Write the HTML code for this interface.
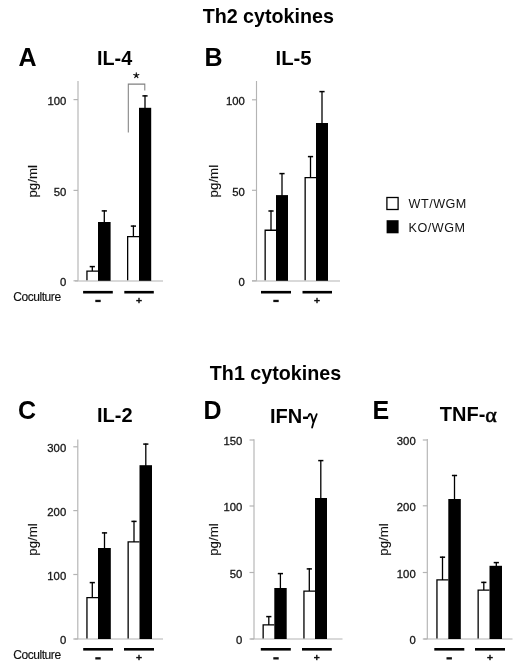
<!DOCTYPE html>
<html><head><meta charset="utf-8"><style>
html,body{margin:0;padding:0;background:#fff;}
body{width:520px;height:670px;overflow:hidden;}
svg{display:block;font-family:"Liberation Sans", sans-serif;will-change:transform;}
</style></head><body>
<svg width="520" height="670" viewBox="0 0 520 670">
<text x="268.3" y="23" font-size="19.7" font-weight="bold" text-anchor="middle" fill="#000">Th2 cytokines</text>
<text x="275.5" y="380.4" font-size="19.7" font-weight="bold" text-anchor="middle" fill="#000">Th1 cytokines</text>
<text x="18.5" y="65.5" font-size="25" font-weight="bold" text-anchor="start" fill="#000">A</text>
<text x="204.5" y="66" font-size="25" font-weight="bold" text-anchor="start" fill="#000">B</text>
<text x="18" y="419" font-size="25" font-weight="bold" text-anchor="start" fill="#000">C</text>
<text x="203.5" y="419" font-size="25" font-weight="bold" text-anchor="start" fill="#000">D</text>
<text x="372.5" y="419" font-size="25" font-weight="bold" text-anchor="start" fill="#000">E</text>
<text x="97" y="65" font-size="19.8" font-weight="bold" text-anchor="start" fill="#000">IL-4</text>
<text x="275.5" y="65.2" font-size="20.3" font-weight="bold" text-anchor="start" fill="#000">IL-5</text>
<text x="97" y="421.5" font-size="20" font-weight="bold" text-anchor="start" fill="#000">IL-2</text>
<text x="270" y="423" font-size="20" font-weight="bold" fill="#000">IFN-</text>
<path d="M308.5 416.4 Q309.4 412.6 311.3 414.8 L313.5 422.6 M316.7 414.2 L313.5 422.6 L312.1 427.6" fill="none" stroke="#000" stroke-width="1.8" stroke-linecap="round" stroke-linejoin="round"/>
<text x="439.8" y="420.8" font-size="20" font-weight="bold" fill="#000">TNF-<tspan font-weight="normal" font-family="Liberation Serif" font-size="22" dy="1" stroke="#000" stroke-width="0.6">α</tspan></text>
<line x1="78" y1="81" x2="78" y2="280.8" stroke="#b4b4b4" stroke-width="1.15"/>
<line x1="75" y1="281" x2="163" y2="281" stroke="#b4b4b4" stroke-width="1.15"/>
<line x1="73.5" y1="99.6" x2="78" y2="99.6" stroke="#b4b4b4" stroke-width="1.2"/>
<text x="66.4" y="104.89999999999999" text-anchor="end" font-size="11.3" fill="#151515" stroke="#151515" stroke-width="0.3">100</text>
<line x1="73.5" y1="190.4" x2="78" y2="190.4" stroke="#b4b4b4" stroke-width="1.2"/>
<text x="66.4" y="195.70000000000002" text-anchor="end" font-size="11.3" fill="#151515" stroke="#151515" stroke-width="0.3">50</text>
<line x1="73.5" y1="280.8" x2="78" y2="280.8" stroke="#b4b4b4" stroke-width="1.2"/>
<text x="66.4" y="286.1" text-anchor="end" font-size="11.3" fill="#151515" stroke="#151515" stroke-width="0.3">0</text>
<path d="M86.95 280.2 V271.04999999999995 H98" fill="#fff" stroke="#000" stroke-width="1.3"/>
<rect x="98" y="222" width="12.599999999999994" height="58.80000000000001" fill="#000"/>
<path d="M127.65 280.2 V236.65 H139" fill="#fff" stroke="#000" stroke-width="1.3"/>
<rect x="139" y="107.8" width="12.199999999999989" height="173.0" fill="#000"/>
<line x1="92.3" y1="266" x2="92.3" y2="271" stroke="#000" stroke-width="1.3"/>
<line x1="89.7" y1="266.6" x2="94.89999999999999" y2="266.6" stroke="#000" stroke-width="1.5"/>
<line x1="104.3" y1="210.3" x2="104.3" y2="222" stroke="#000" stroke-width="1.3"/>
<line x1="101.7" y1="210.9" x2="106.89999999999999" y2="210.9" stroke="#000" stroke-width="1.5"/>
<line x1="133.4" y1="225.5" x2="133.4" y2="236" stroke="#000" stroke-width="1.3"/>
<line x1="130.8" y1="226.1" x2="136.0" y2="226.1" stroke="#000" stroke-width="1.5"/>
<line x1="145" y1="95.3" x2="145" y2="108" stroke="#000" stroke-width="1.3"/>
<line x1="142.4" y1="95.89999999999999" x2="147.6" y2="95.89999999999999" stroke="#000" stroke-width="1.5"/>
<line x1="83.1" y1="292.2" x2="112.8" y2="292.2" stroke="#000" stroke-width="2.6"/>
<line x1="124.3" y1="292.2" x2="153.8" y2="292.2" stroke="#000" stroke-width="2.6"/>
<rect x="95.3" y="299.8" width="5.4" height="2.3" fill="#111"/>
<rect x="136.2" y="299.9" width="5.6" height="1.4" fill="#111"/>
<rect x="138.3" y="297.8" width="1.4" height="5.4" fill="#111"/>
<text transform="translate(36.9,181.35) rotate(-90)" x="0" y="0" text-anchor="middle" font-size="13.3" fill="#111" stroke="#111" stroke-width="0.15">pg/ml</text>
<text x="13.3" y="301.4" font-size="12" letter-spacing="-0.45" fill="#111" stroke="#111" stroke-width="0.15">Coculture</text>
<path d="M128.3 132.6 V84.1 H144.8 V90.5" fill="none" stroke="#808080" stroke-width="1.05"/>
<path d="M136.3 75.4 L136.30 72.70 M136.3 75.4 L138.87 74.57 M136.3 75.4 L133.73 74.57 M136.3 75.4 L134.71 77.58 M136.3 75.4 L137.89 77.58" stroke="#111" stroke-width="1.15" stroke-linecap="round" fill="none"/>
<line x1="256.5" y1="81" x2="256.5" y2="280.8" stroke="#b4b4b4" stroke-width="1.15"/>
<line x1="252" y1="281" x2="340" y2="281" stroke="#b4b4b4" stroke-width="1.15"/>
<line x1="252.0" y1="99.8" x2="256.5" y2="99.8" stroke="#b4b4b4" stroke-width="1.2"/>
<text x="244.9" y="105.1" text-anchor="end" font-size="11.3" fill="#151515" stroke="#151515" stroke-width="0.3">100</text>
<line x1="252.0" y1="190.3" x2="256.5" y2="190.3" stroke="#b4b4b4" stroke-width="1.2"/>
<text x="244.9" y="195.60000000000002" text-anchor="end" font-size="11.3" fill="#151515" stroke="#151515" stroke-width="0.3">50</text>
<line x1="252.0" y1="280.8" x2="256.5" y2="280.8" stroke="#b4b4b4" stroke-width="1.2"/>
<text x="244.9" y="286.1" text-anchor="end" font-size="11.3" fill="#151515" stroke="#151515" stroke-width="0.3">0</text>
<path d="M265.15 280.2 V230.25 H276" fill="#fff" stroke="#000" stroke-width="1.3"/>
<rect x="276" y="195.1" width="12" height="85.70000000000002" fill="#000"/>
<path d="M305.15 280.2 V177.65 H316" fill="#fff" stroke="#000" stroke-width="1.3"/>
<rect x="316" y="123" width="12" height="157.8" fill="#000"/>
<line x1="271" y1="210.4" x2="271" y2="230" stroke="#000" stroke-width="1.3"/>
<line x1="268.4" y1="211.0" x2="273.6" y2="211.0" stroke="#000" stroke-width="1.5"/>
<line x1="282" y1="173" x2="282" y2="196" stroke="#000" stroke-width="1.3"/>
<line x1="279.4" y1="173.6" x2="284.6" y2="173.6" stroke="#000" stroke-width="1.5"/>
<line x1="310.5" y1="156" x2="310.5" y2="177" stroke="#000" stroke-width="1.3"/>
<line x1="307.9" y1="156.6" x2="313.1" y2="156.6" stroke="#000" stroke-width="1.5"/>
<line x1="322" y1="91" x2="322" y2="123" stroke="#000" stroke-width="1.3"/>
<line x1="319.4" y1="91.6" x2="324.6" y2="91.6" stroke="#000" stroke-width="1.5"/>
<line x1="261" y1="292.2" x2="291" y2="292.2" stroke="#000" stroke-width="2.6"/>
<line x1="302.5" y1="292.2" x2="332" y2="292.2" stroke="#000" stroke-width="2.6"/>
<rect x="273.3" y="299.8" width="5.4" height="2.3" fill="#111"/>
<rect x="314.2" y="299.9" width="5.6" height="1.4" fill="#111"/>
<rect x="316.3" y="297.8" width="1.4" height="5.4" fill="#111"/>
<text transform="translate(218.2,181.15) rotate(-90)" x="0" y="0" text-anchor="middle" font-size="13.3" fill="#111" stroke="#111" stroke-width="0.15">pg/ml</text>
<rect x="386.9" y="197.5" width="11.2" height="12" fill="#fff" stroke="#000" stroke-width="1.3"/>
<rect x="386.6" y="220.2" width="12" height="13.1" fill="#000"/>
<text x="408.6" y="208.3" font-size="12.6" letter-spacing="0.5" fill="#111">WT/WGM</text>
<text x="408.6" y="231.8" font-size="12.6" letter-spacing="0.5" fill="#111">KO/WGM</text>
<line x1="77.8" y1="439.5" x2="77.8" y2="639" stroke="#b4b4b4" stroke-width="1.15"/>
<line x1="74.5" y1="639" x2="163" y2="639" stroke="#b4b4b4" stroke-width="1.15"/>
<line x1="73.3" y1="446.8" x2="77.8" y2="446.8" stroke="#b4b4b4" stroke-width="1.2"/>
<text x="66.2" y="452.1" text-anchor="end" font-size="11.3" fill="#151515" stroke="#151515" stroke-width="0.3">300</text>
<line x1="73.3" y1="510.6" x2="77.8" y2="510.6" stroke="#b4b4b4" stroke-width="1.2"/>
<text x="66.2" y="515.9" text-anchor="end" font-size="11.3" fill="#151515" stroke="#151515" stroke-width="0.3">200</text>
<line x1="73.3" y1="574.5" x2="77.8" y2="574.5" stroke="#b4b4b4" stroke-width="1.2"/>
<text x="66.2" y="579.8" text-anchor="end" font-size="11.3" fill="#151515" stroke="#151515" stroke-width="0.3">100</text>
<line x1="73.3" y1="639" x2="77.8" y2="639" stroke="#b4b4b4" stroke-width="1.2"/>
<text x="66.2" y="644.3" text-anchor="end" font-size="11.3" fill="#151515" stroke="#151515" stroke-width="0.3">0</text>
<path d="M86.95 638.4 V597.65 H98" fill="#fff" stroke="#000" stroke-width="1.3"/>
<rect x="98" y="548.0" width="12.799999999999997" height="91.0" fill="#000"/>
<path d="M128.15 638.4 V541.9499999999999 H139.5" fill="#fff" stroke="#000" stroke-width="1.3"/>
<rect x="139.5" y="465.2" width="12.5" height="173.8" fill="#000"/>
<line x1="92.3" y1="582.0" x2="92.3" y2="598" stroke="#000" stroke-width="1.3"/>
<line x1="89.7" y1="582.6" x2="94.89999999999999" y2="582.6" stroke="#000" stroke-width="1.5"/>
<line x1="104.5" y1="532.3" x2="104.5" y2="549" stroke="#000" stroke-width="1.3"/>
<line x1="101.9" y1="532.9" x2="107.1" y2="532.9" stroke="#000" stroke-width="1.5"/>
<line x1="134" y1="520.8" x2="134" y2="542" stroke="#000" stroke-width="1.3"/>
<line x1="131.4" y1="521.4" x2="136.6" y2="521.4" stroke="#000" stroke-width="1.5"/>
<line x1="145.8" y1="443.5" x2="145.8" y2="466" stroke="#000" stroke-width="1.3"/>
<line x1="143.20000000000002" y1="444.1" x2="148.4" y2="444.1" stroke="#000" stroke-width="1.5"/>
<line x1="83.2" y1="649.3" x2="113" y2="649.3" stroke="#000" stroke-width="2.6"/>
<line x1="124" y1="649.3" x2="154" y2="649.3" stroke="#000" stroke-width="2.6"/>
<rect x="95.3" y="657.1999999999999" width="5.4" height="2.3" fill="#111"/>
<rect x="136.2" y="656.9" width="5.6" height="1.4" fill="#111"/>
<rect x="138.3" y="654.8" width="1.4" height="5.4" fill="#111"/>
<text transform="translate(36.8,539.5) rotate(-90)" x="0" y="0" text-anchor="middle" font-size="13.3" fill="#111" stroke="#111" stroke-width="0.15">pg/ml</text>
<text x="13.3" y="658.7" font-size="12" letter-spacing="-0.45" fill="#111" stroke="#111" stroke-width="0.15">Coculture</text>
<line x1="254" y1="439.3" x2="254" y2="639" stroke="#b4b4b4" stroke-width="1.15"/>
<line x1="250.5" y1="639" x2="342.5" y2="639" stroke="#b4b4b4" stroke-width="1.15"/>
<line x1="249.5" y1="440" x2="254" y2="440" stroke="#b4b4b4" stroke-width="1.2"/>
<text x="242.4" y="445.3" text-anchor="end" font-size="11.3" fill="#151515" stroke="#151515" stroke-width="0.3">150</text>
<line x1="249.5" y1="506" x2="254" y2="506" stroke="#b4b4b4" stroke-width="1.2"/>
<text x="242.4" y="511.3" text-anchor="end" font-size="11.3" fill="#151515" stroke="#151515" stroke-width="0.3">100</text>
<line x1="249.5" y1="572.5" x2="254" y2="572.5" stroke="#b4b4b4" stroke-width="1.2"/>
<text x="242.4" y="577.8" text-anchor="end" font-size="11.3" fill="#151515" stroke="#151515" stroke-width="0.3">50</text>
<line x1="249.5" y1="639" x2="254" y2="639" stroke="#b4b4b4" stroke-width="1.2"/>
<text x="242.4" y="644.3" text-anchor="end" font-size="11.3" fill="#151515" stroke="#151515" stroke-width="0.3">0</text>
<path d="M263.15 638.4 V624.9499999999999 H274.3" fill="#fff" stroke="#000" stroke-width="1.3"/>
<rect x="274.3" y="588" width="12.399999999999977" height="51" fill="#000"/>
<path d="M303.95 638.4 V591.15 H315" fill="#fff" stroke="#000" stroke-width="1.3"/>
<rect x="315" y="498" width="12" height="141" fill="#000"/>
<line x1="268.8" y1="616.0" x2="268.8" y2="625" stroke="#000" stroke-width="1.3"/>
<line x1="266.2" y1="616.6" x2="271.40000000000003" y2="616.6" stroke="#000" stroke-width="1.5"/>
<line x1="280.4" y1="573.0" x2="280.4" y2="588" stroke="#000" stroke-width="1.3"/>
<line x1="277.79999999999995" y1="573.6" x2="283.0" y2="573.6" stroke="#000" stroke-width="1.5"/>
<line x1="309.3" y1="568.3" x2="309.3" y2="591" stroke="#000" stroke-width="1.3"/>
<line x1="306.7" y1="568.9" x2="311.90000000000003" y2="568.9" stroke="#000" stroke-width="1.5"/>
<line x1="320.8" y1="460.0" x2="320.8" y2="498" stroke="#000" stroke-width="1.3"/>
<line x1="318.2" y1="460.6" x2="323.40000000000003" y2="460.6" stroke="#000" stroke-width="1.5"/>
<line x1="260.8" y1="649.3" x2="290.8" y2="649.3" stroke="#000" stroke-width="2.6"/>
<line x1="302" y1="649.3" x2="331.8" y2="649.3" stroke="#000" stroke-width="2.6"/>
<rect x="273.3" y="657.1999999999999" width="5.4" height="2.3" fill="#111"/>
<rect x="314.0" y="656.9" width="5.6" height="1.4" fill="#111"/>
<rect x="316.1" y="654.8" width="1.4" height="5.4" fill="#111"/>
<text transform="translate(217.7,539.55) rotate(-90)" x="0" y="0" text-anchor="middle" font-size="13.3" fill="#111" stroke="#111" stroke-width="0.15">pg/ml</text>
<line x1="427.3" y1="439" x2="427.3" y2="639" stroke="#b4b4b4" stroke-width="1.15"/>
<line x1="423.8" y1="639" x2="512.5" y2="639" stroke="#b4b4b4" stroke-width="1.15"/>
<line x1="422.8" y1="440" x2="427.3" y2="440" stroke="#b4b4b4" stroke-width="1.2"/>
<text x="415.7" y="445.3" text-anchor="end" font-size="11.3" fill="#151515" stroke="#151515" stroke-width="0.3">300</text>
<line x1="422.8" y1="505.8" x2="427.3" y2="505.8" stroke="#b4b4b4" stroke-width="1.2"/>
<text x="415.7" y="511.1" text-anchor="end" font-size="11.3" fill="#151515" stroke="#151515" stroke-width="0.3">200</text>
<line x1="422.8" y1="572.5" x2="427.3" y2="572.5" stroke="#b4b4b4" stroke-width="1.2"/>
<text x="415.7" y="577.8" text-anchor="end" font-size="11.3" fill="#151515" stroke="#151515" stroke-width="0.3">100</text>
<line x1="422.8" y1="639" x2="427.3" y2="639" stroke="#b4b4b4" stroke-width="1.2"/>
<text x="415.7" y="644.3" text-anchor="end" font-size="11.3" fill="#151515" stroke="#151515" stroke-width="0.3">0</text>
<path d="M436.95 638.4 V579.85 H448.3" fill="#fff" stroke="#000" stroke-width="1.3"/>
<rect x="448.3" y="499.0" width="12.5" height="140.0" fill="#000"/>
<path d="M478.15 638.4 V590.15 H489.5" fill="#fff" stroke="#000" stroke-width="1.3"/>
<rect x="489.5" y="565.8" width="12.5" height="73.20000000000005" fill="#000"/>
<line x1="442.5" y1="556.6" x2="442.5" y2="580" stroke="#000" stroke-width="1.3"/>
<line x1="439.9" y1="557.2" x2="445.1" y2="557.2" stroke="#000" stroke-width="1.5"/>
<line x1="454.5" y1="474.9" x2="454.5" y2="500" stroke="#000" stroke-width="1.3"/>
<line x1="451.9" y1="475.5" x2="457.1" y2="475.5" stroke="#000" stroke-width="1.5"/>
<line x1="483.8" y1="581.8" x2="483.8" y2="590" stroke="#000" stroke-width="1.3"/>
<line x1="481.2" y1="582.4" x2="486.40000000000003" y2="582.4" stroke="#000" stroke-width="1.5"/>
<line x1="496.3" y1="562" x2="496.3" y2="566" stroke="#000" stroke-width="1.3"/>
<line x1="493.7" y1="562.6" x2="498.90000000000003" y2="562.6" stroke="#000" stroke-width="1.5"/>
<line x1="434.3" y1="649.3" x2="464.3" y2="649.3" stroke="#000" stroke-width="2.6"/>
<line x1="475" y1="649.3" x2="505" y2="649.3" stroke="#000" stroke-width="2.6"/>
<rect x="446.5" y="657.1999999999999" width="5.4" height="2.3" fill="#111"/>
<rect x="487.2" y="656.9" width="5.6" height="1.4" fill="#111"/>
<rect x="489.3" y="654.8" width="1.4" height="5.4" fill="#111"/>
<text transform="translate(388,539.45) rotate(-90)" x="0" y="0" text-anchor="middle" font-size="13.3" fill="#111" stroke="#111" stroke-width="0.15">pg/ml</text>
</svg>
</body></html>
